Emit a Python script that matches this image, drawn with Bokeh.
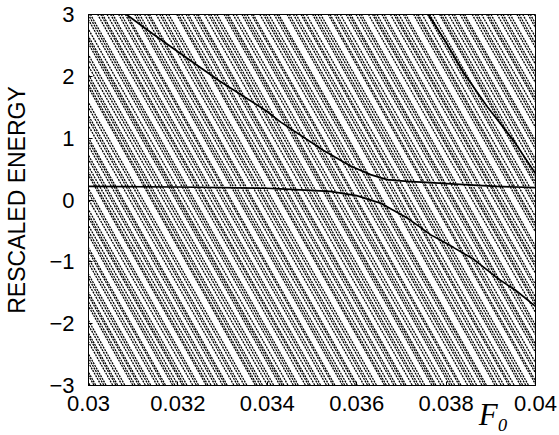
import numpy as np
from bokeh.plotting import figure
from bokeh.models import Range1d, FixedTicker, ColumnDataSource, LinearAxis
from bokeh.embed import file_html
from bokeh.resources import INLINE

# Diabatic (dotted) levels: field value F0 at which each level crosses E = 0
F_zero = [0.02766, 0.02771, 0.02780, 0.02784, 0.02796, 0.02802, 0.02807, 0.02822, 0.02829, 0.02833,
          0.02843, 0.02849, 0.02867, 0.02872, 0.02880, 0.02884, 0.02895, 0.02902, 0.02907, 0.02921,
          0.02927, 0.02936, 0.02940, 0.02956, 0.02961, 0.02968, 0.02978, 0.02982, 0.02988, 0.03001,
          0.03009, 0.03014, 0.03031, 0.03035, 0.03042, 0.03051, 0.03056, 0.03068, 0.03074, 0.03078,
          0.03093, 0.03101, 0.03106, 0.03116, 0.03122, 0.03141, 0.03145, 0.03152, 0.03157, 0.03168,
          0.03176, 0.03182, 0.03196, 0.03201, 0.03205, 0.03214, 0.03226, 0.03232, 0.03237, 0.03253,
          0.03260, 0.03264, 0.03274, 0.03282, 0.03287, 0.03300, 0.03306, 0.03315, 0.03319, 0.03336,
          0.03341, 0.03347, 0.03358, 0.03365, 0.03369, 0.03384, 0.03392, 0.03397, 0.03406, 0.03412,
          0.03430, 0.03434, 0.03441, 0.03451, 0.03456, 0.03468, 0.03474, 0.03478, 0.03492, 0.03501,
          0.03506, 0.03514, 0.03520, 0.03536, 0.03541, 0.03545, 0.03556, 0.03563, 0.03576, 0.03581,
          0.03587, 0.03597, 0.03601, 0.03616, 0.03624, 0.03629, 0.03636, 0.03648, 0.03654, 0.03658,
          0.03677, 0.03682, 0.03691, 0.03697, 0.03708, 0.03712, 0.03720, 0.03734, 0.03739, 0.03746,
          0.03752, 0.03769, 0.03773, 0.03783, 0.03788, 0.03796, 0.03809, 0.03815, 0.03819, 0.03831,
          0.03838, 0.03843, 0.03859, 0.03868, 0.03872, 0.03878, 0.03889, 0.03894, 0.03908, 0.03916,
          0.03920, 0.03927, 0.03937, 0.03942, 0.03960, 0.03966, 0.03970, 0.03979, 0.03991, 0.03996,
          0.04003, 0.04018, 0.04022, 0.04028, 0.04038, 0.04046, 0.04051, 0.04064, 0.04070, 0.04074,
          0.04091, 0.04098, 0.04103, 0.04112, 0.04123, 0.04127, 0.04133, 0.04147, 0.04155, 0.04160,
          0.04170, 0.04176, 0.04191, 0.04196, 0.04204, 0.04216, 0.04221, 0.04230, 0.04235]
SLOPE = -1290.0  # dE/dF of the diabatic levels

# Adiabatic (solid) levels
upper_F = [0.03085, 0.03145, 0.03219, 0.03294, 0.03398, 0.03430, 0.03526, 0.03586, 0.03631,
           0.03668, 0.03713, 0.03765, 0.03840, 0.03914, 0.04000]
upper_E = [3.00, 2.68, 2.30, 1.92, 1.44, 1.26, 0.80, 0.55, 0.41, 0.33, 0.30, 0.28, 0.25, 0.22, 0.20]
lower_F = [0.03000, 0.03200, 0.03400, 0.03430, 0.03540, 0.03600, 0.03653, 0.03713, 0.03765,
           0.03817, 0.03862, 0.03914, 0.03959, 0.04000]
lower_E = [0.22, 0.21, 0.19, 0.18, 0.14, 0.07, -0.05, -0.29, -0.56, -0.77, -0.96, -1.26, -1.48, -1.72]
third_F = [0.03760, 0.03800, 0.03840, 0.03893, 0.03951, 0.04000]
third_E = [3.00, 2.55, 2.05, 1.50, 0.96, 0.43]

x_ticks = [0.03, 0.032, 0.034, 0.036, 0.038, 0.04]
x_tick_labels = ["0.03", "0.032", "0.034", "0.036", "0.038", "0.04"]
y_ticks = [-3, -2, -1, 0, 1, 2, 3]
y_tick_labels = ["\u22123", "\u22122", "\u22121", "0", "1", "2", "3"]
x_title = "F\u2080"
x_title_pos = 0.03906

p = figure(width=559, height=435, x_range=Range1d(0.03, 0.04), y_range=Range1d(-3, 3),
           output_backend="svg", toolbar_location=None,
           min_border_left=88, min_border_right=24, min_border_top=14, min_border_bottom=50)
p.grid.visible = False
p.outline_line_color = "black"
p.outline_line_width = 1
p.background_fill_color = "white"
p.border_fill_color = "white"

E_end = 3.3
F0 = np.array(F_zero)
src = ColumnDataSource(dict(x0=F0 + E_end / SLOPE, y0=[E_end] * len(F0),
                            x1=F0 - E_end / SLOPE, y1=[-E_end] * len(F0)))
p.segment(x0="x0", y0="y0", x1="x1", y1="y1", source=src, line_color="black",
          line_width=1.3, line_dash="2 1")

for fx, ey in [(upper_F, upper_E), (lower_F, lower_E), (third_F, third_E)]:
    p.line(fx, ey, line_color="black", line_width=1.7)

p.xaxis.ticker = FixedTicker(ticks=x_ticks)
p.xaxis.major_label_overrides = {t: l for t, l in zip(x_ticks, x_tick_labels)}
p.yaxis.ticker = FixedTicker(ticks=y_ticks)
p.yaxis.major_label_overrides = {t: l for t, l in zip(y_ticks, y_tick_labels)}
for ax in (p.xaxis[0], p.yaxis[0]):
    ax.major_label_text_font = "Liberation Sans"
    ax.major_label_text_font_size = "22px"
    ax.major_label_text_color = "black"
    ax.major_tick_in = 4
    ax.major_tick_out = 0
    ax.minor_tick_line_color = None
    ax.axis_line_color = "black"
    ax.major_tick_line_color = "black"
p.xaxis.major_label_standoff = 10
p.yaxis.major_label_standoff = 14
p.yaxis.axis_label = "RESCALED ENERGY"
p.yaxis.axis_label_text_font = "Liberation Sans"
p.yaxis.axis_label_text_font_size = "23px"
p.yaxis.axis_label_text_font_style = "normal"
p.yaxis.axis_label_text_color = "black"
p.yaxis.axis_label_standoff = 16

# x-axis title drawn as the single label of an extra, line-less axis
title_axis = LinearAxis(ticker=FixedTicker(ticks=[x_title_pos]),
                        major_label_overrides={x_title_pos: x_title},
                        axis_line_color=None, major_tick_line_color=None,
                        minor_tick_line_color=None, major_tick_in=0, major_tick_out=0,
                        major_label_text_font="Liberation Serif",
                        major_label_text_font_style="italic",
                        major_label_text_font_size="31px",
                        major_label_text_color="black",
                        major_label_standoff=-17)
p.add_layout(title_axis, "below")

open("out.html", "w").write(file_html(p, INLINE))
